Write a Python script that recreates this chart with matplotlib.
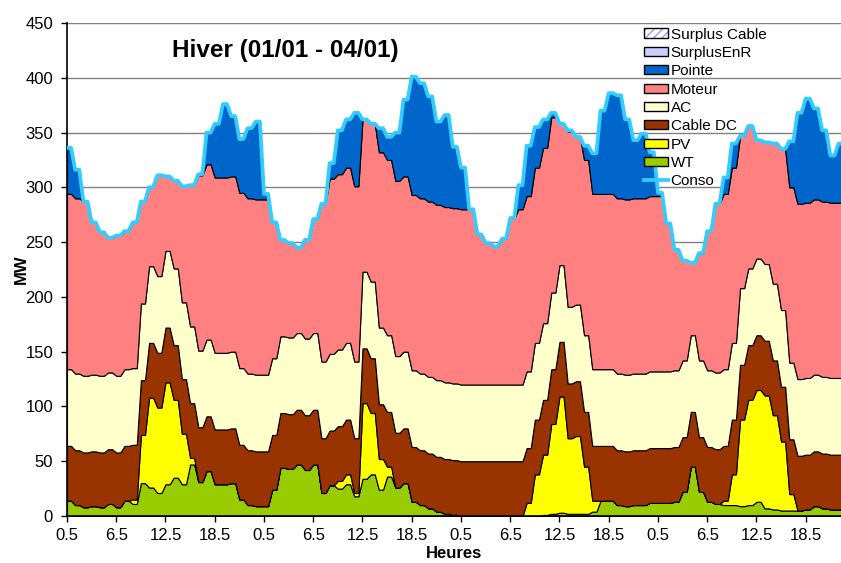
import matplotlib
matplotlib.use("Agg")
import matplotlib.pyplot as plt
from matplotlib.patches import Patch
from matplotlib.lines import Line2D
from matplotlib.legend_handler import HandlerTuple
import numpy as np

plt.rcParams['font.family'] = ['Liberation Sans', 'DejaVu Sans']

# Hourly values (MW) over four winter days, 24 hours per day
hour_labels = ['0.5', '6.5', '12.5', '18.5'] * 4

wt = [14, 10, 8, 9, 8, 11, 8, 14, 11, 30, 26, 21, 29, 35, 29, 47, 31, 41, 29, 29, 30, 15, 10, 9,
      9, 24, 44, 43, 47, 42, 47, 21, 28, 25, 29, 18, 34, 38, 24, 36, 26, 30, 13, 10, 7, 4, 2, 1,
      0, 0, 0, 0, 0, 0, 0, 0, 0, 0, 1, 2, 3, 2, 2, 2, 4, 14, 14, 10, 9, 10, 10, 12,
      12, 12, 13, 22, 45, 22, 13, 11, 10, 10, 9, 10, 13, 7, 6, 5, 5, 5, 6, 9, 7, 6, 6, 6]

pv = [0, 0, 0, 0, 0, 0, 0, 0, 4, 44, 82, 78, 93, 71, 46, 6, 0, 0, 0, 0, 0, 0, 0, 0,
      0, 0, 0, 0, 0, 0, 0, 0, 0, 7, 9, 3, 69, 56, 28, 9, 0, 0, 0, 0, 0, 0, 0, 0,
      0, 0, 0, 0, 0, 0, 0, 0, 12, 38, 55, 82, 106, 69, 71, 43, 10, 0, 0, 0, 0, 0, 0, 0,
      0, 0, 0, 0, 0, 0, 0, 0, 4, 28, 79, 96, 102, 103, 86, 63, 15, 0, 0, 0, 0, 0, 0, 0]

cable_dc = [50, 50, 50, 50, 50, 50, 50, 50, 50, 50, 50, 50, 50, 50, 50, 50, 50, 50, 50, 50, 50, 50, 50, 50,
            50, 50, 50, 50, 50, 50, 50, 50, 50, 50, 50, 50, 50, 50, 50, 50, 50, 50, 50, 50, 50, 50, 50, 50,
            50, 50, 50, 50, 50, 50, 50, 50, 50, 50, 50, 50, 50, 50, 50, 50, 50, 50, 50, 50, 50, 50, 50, 50,
            50, 50, 50, 50, 50, 50, 50, 50, 50, 50, 50, 50, 50, 50, 50, 50, 50, 50, 50, 50, 50, 50, 50, 50]

ac = [70, 70, 70, 70, 70, 70, 70, 70, 70, 70, 70, 70, 70, 70, 70, 70, 70, 70, 70, 70, 70, 70, 70, 70,
      70, 70, 70, 70, 70, 70, 70, 70, 70, 70, 70, 70, 70, 70, 70, 70, 70, 70, 70, 70, 70, 70, 70, 70,
      70, 70, 70, 70, 70, 70, 70, 70, 70, 70, 70, 70, 70, 70, 70, 70, 70, 70, 70, 70, 70, 70, 70, 70,
      70, 70, 70, 70, 70, 70, 70, 70, 70, 70, 70, 70, 70, 70, 70, 70, 70, 70, 70, 70, 70, 70, 70, 70]

moteur = [160, 160, 159, 139, 131, 123, 128, 126, 133, 93, 72, 92, 68, 80, 106, 129, 160, 160, 160, 160, 160, 160, 160, 160,
          160, 124, 88, 86, 78, 90, 104, 144, 160, 160, 160, 160, 139, 144, 160, 160, 160, 160, 160, 160, 160, 160, 160, 160,
          160, 160, 137, 129, 126, 133, 152, 160, 160, 160, 160, 160, 129, 160, 153, 160, 160, 160, 160, 160, 160, 160, 160, 160,
          160, 135, 110, 91, 66, 98, 127, 154, 160, 160, 139, 130, 108, 111, 128, 147, 160, 160, 160, 160, 160, 160, 160, 160]

pointe = [42, 26, 0, 0, 0, 0, 0, 0, 0, 0, 0, 0, 0, 0, 0, 0, 1, 29, 49, 67, 55, 49, 64, 71,
          5, 0, 0, 0, 0, 0, 0, 0, 14, 40, 44, 67, 0, 0, 22, 21, 44, 70, 108, 105, 96, 76, 84, 56,
          38, 0, 0, 0, 0, 0, 0, 22, 46, 37, 26, 4, 0, 1, 0, 13, 37, 76, 92, 94, 73, 53, 59, 40,
          3, 0, 0, 0, 0, 0, 0, 0, 15, 22, 0, 0, 0, 0, 0, 0, 42, 83, 95, 83, 65, 43, 54, 59]

surplus_enr = [0, 0, 0, 0, 0, 0, 0, 0, 0, 0, 0, 0, 0, 0, 0, 0, 0, 0, 0, 0, 0, 0, 0, 0,
               0, 0, 0, 0, 0, 0, 0, 0, 0, 0, 0, 0, 0, 0, 0, 0, 0, 0, 0, 0, 0, 0, 0, 0,
               0, 0, 0, 0, 0, 0, 0, 0, 0, 0, 0, 0, 0, 0, 0, 0, 0, 0, 0, 0, 0, 0, 0, 0,
               0, 0, 0, 0, 0, 0, 0, 0, 0, 0, 0, 0, 0, 0, 0, 0, 0, 0, 0, 0, 0, 0, 0, 0]

surplus_cable = [0, 0, 0, 0, 0, 0, 0, 0, 0, 0, 0, 0, 0, 0, 0, 0, 0, 0, 0, 0, 0, 0, 0, 0,
                 0, 0, 0, 0, 0, 0, 0, 0, 0, 0, 0, 0, 0, 0, 0, 0, 0, 0, 0, 0, 0, 0, 0, 0,
                 0, 0, 0, 0, 0, 0, 0, 0, 0, 0, 0, 0, 0, 0, 0, 0, 0, 0, 0, 0, 0, 0, 0, 0,
                 0, 0, 0, 0, 0, 0, 0, 0, 0, 0, 0, 0, 0, 0, 0, 0, 0, 0, 0, 0, 0, 0, 0, 0]

conso = [336, 316, 287, 268, 259, 254, 256, 260, 268, 287, 300, 311, 310, 306, 301, 302, 312, 350, 358, 376, 365, 344, 354, 360,
         294, 268, 252, 249, 245, 252, 271, 285, 322, 352, 362, 368, 362, 358, 354, 346, 350, 380, 401, 395, 383, 360, 366, 337,
         318, 280, 257, 249, 246, 253, 272, 302, 338, 355, 362, 368, 358, 352, 346, 338, 331, 370, 386, 384, 362, 343, 349, 332,
         295, 267, 243, 233, 231, 240, 260, 285, 309, 340, 347, 356, 343, 341, 340, 335, 342, 368, 381, 372, 352, 329, 340, 345]

layer_colors = ['#99CC00', '#FFFF00', '#993300', '#FFFFCC', '#FF8080', '#0066CC', '#CCCCFF', '#FFFFFF']
conso_color = '#33CCFF'

# Each hourly value is sampled twice (every half hour), as in the source time series
t = np.arange(0, len(conso), 0.5)


def half_hourly(values):
    return np.repeat(np.asarray(values, dtype=float), 2)


fig = plt.figure(figsize=(8.41, 5.63), dpi=100)
ax = fig.add_axes([67 / 841, 47 / 563, 774 / 841, 493 / 563])

series = [wt, pv, cable_dc, ac, moteur, pointe, surplus_enr, surplus_cable]
ax.stackplot(t, *[half_hourly(s) for s in series],
             colors=layer_colors, edgecolor='black', linewidth=0.8, zorder=2)
ax.plot(t, half_hourly(conso), color=conso_color, lw=2.7,
        solid_joinstyle='round', solid_capstyle='round', zorder=3)

ax.set_xlim(0, 94.3)
ax.set_ylim(0, 450)
ax.set_yticks(range(0, 451, 50))
ax.set_xticks(range(0, 96, 6))
ax.set_xticklabels(hour_labels)
ax.tick_params(axis='both', labelsize=12, length=4, width=1, direction='out', color='black')
ax.tick_params(axis='y', pad=6)
ax.tick_params(axis='x', pad=5)

ax.yaxis.grid(True, color='#808080', lw=1)
ax.set_axisbelow(True)
for side in ('top', 'right'):
    ax.spines[side].set_visible(False)
ax.spines['left'].set_linewidth(1.2)
ax.spines['bottom'].set_linewidth(1.2)

ax.set_xlabel('Heures', fontsize=12, fontweight='bold', labelpad=2)
ax.set_ylabel('MW', fontsize=12, fontweight='bold')
ax.yaxis.set_label_coords(-0.049, 0.5)

fig.text(285 / 841, 1 - 50 / 563, 'Hiver (01/01 - 04/01)', fontsize=17.5, fontweight='bold',
         ha='center', va='center')

surplus_cable_handle = (Patch(facecolor='white', edgecolor='none'),
                        Patch(facecolor='none', edgecolor='#9999FF', hatch='////', linewidth=0),
                        Patch(facecolor='none', edgecolor='black', linewidth=1))
handles = [surplus_cable_handle,
           Patch(facecolor='#CCCCFF', edgecolor='black', linewidth=1),
           Patch(facecolor='#0066CC', edgecolor='black', linewidth=1),
           Patch(facecolor='#FF8080', edgecolor='black', linewidth=1),
           Patch(facecolor='#FFFFCC', edgecolor='black', linewidth=1),
           Patch(facecolor='#993300', edgecolor='black', linewidth=1),
           Patch(facecolor='#FFFF00', edgecolor='black', linewidth=1),
           Patch(facecolor='#99CC00', edgecolor='black', linewidth=1),
           Line2D([], [], color=conso_color, lw=2.7)]
labels = ['Surplus Cable', 'SurplusEnR', 'Pointe', 'Moteur', 'AC', 'Cable DC', 'PV', 'WT', 'Conso']
ax.legend(handles, labels, handler_map={tuple: HandlerTuple(ndivide=1, pad=0)},
          loc='upper left', bbox_to_anchor=(644 / 841, 1 - 27.5 / 563), bbox_transform=fig.transFigure,
          frameon=False, fontsize=11, handlelength=1.55, handleheight=0.55,
          handletextpad=0.2, labelspacing=0.285, borderpad=0, borderaxespad=0)

fig.savefig('out.png', dpi=100)
